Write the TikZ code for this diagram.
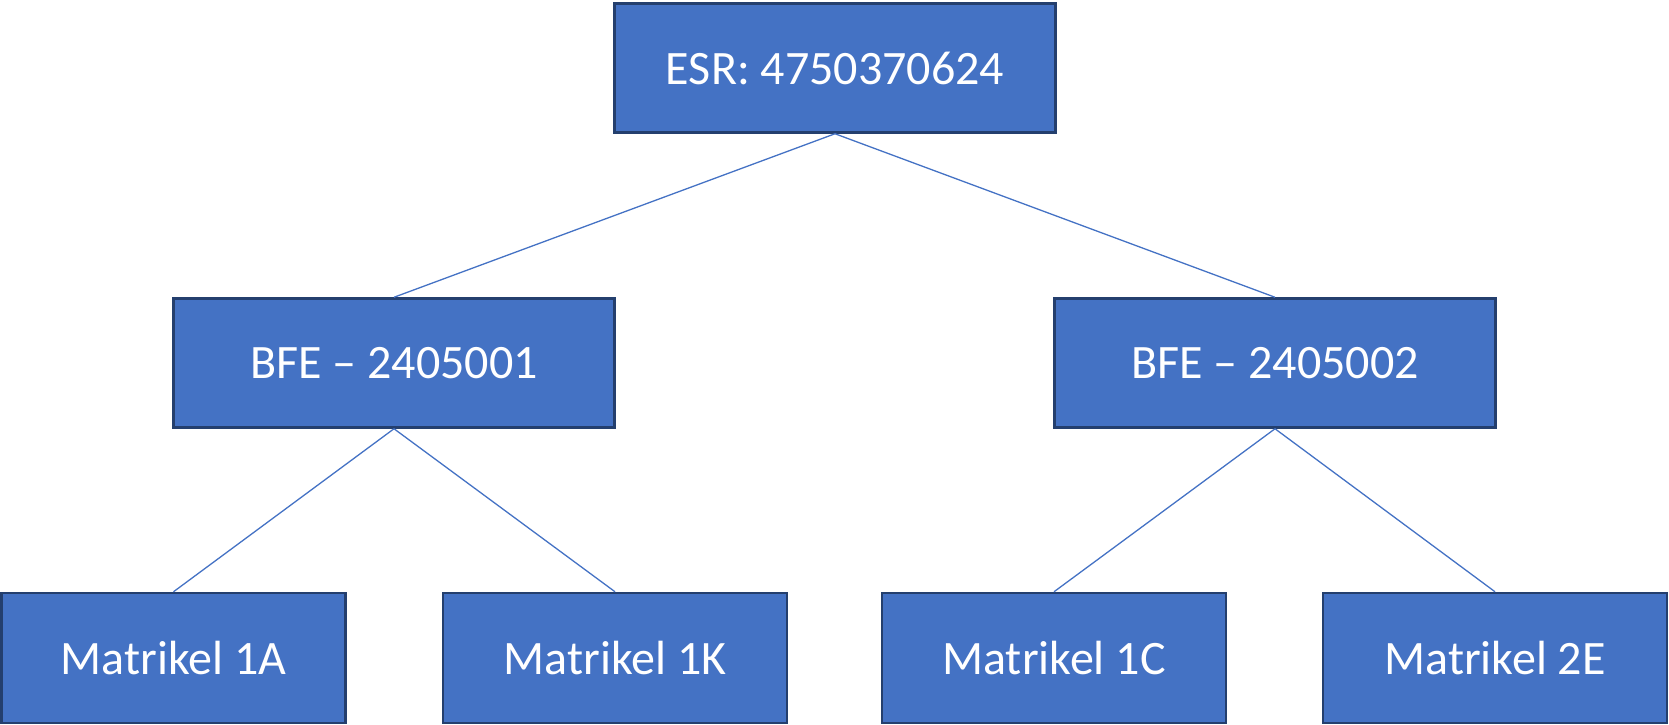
\documentclass[tikz,border=0pt]{standalone}
\usepackage{fontspec}
\setmainfont{Carlito}
\definecolor{boxblue}{HTML}{4472C4}
\definecolor{boxedge}{HTML}{243F6E}
\tikzset{
  box/.style={draw=boxedge,line width=2.5pt,fill=boxblue,text=white,
    minimum width=441pt,minimum height=129pt,inner sep=0pt,
    font=\fontsize{48}{57}\selectfont},
  leaf/.style={box,minimum width=344pt,minimum height=130pt},
  link/.style={draw=boxblue,line width=1.3pt}
}
\begin{document}
\begin{tikzpicture}[x=1pt,y=-1pt]
\useasboundingbox (0,0) rectangle (1669,724);

% top
\node[box] (esr) at (835,68) {\raisebox{-3pt}{ESR: 4750370624}};

% middle
\node[box] (bfeA) at (394,363) {\raisebox{-3pt}{BFE -- 2405001}};
\node[box] (bfeB) at (1275,363) {\raisebox{-3pt}{BFE -- 2405002}};

% bottom
\node[leaf] (matA) at (173.5,658) {\raisebox{-3pt}{Matrikel 1A}};
\node[leaf] (matK) at (615,658) {\raisebox{-3pt}{Matrikel 1K}};
\node[leaf] (matC) at (1054,658) {\raisebox{-3pt}{Matrikel 1C}};
\node[leaf] (matE) at (1495,658) {\raisebox{-3pt}{Matrikel 2E}};

\draw[link] (esr.south)--(bfeA.north);
\draw[link] (esr.south)--(bfeB.north);
\draw[link] (bfeA.south)--(matA.north);
\draw[link] (bfeA.south)--(matK.north);
\draw[link] (bfeB.south)--(matC.north);
\draw[link] (bfeB.south)--(matE.north);

\end{tikzpicture}
\end{document}
